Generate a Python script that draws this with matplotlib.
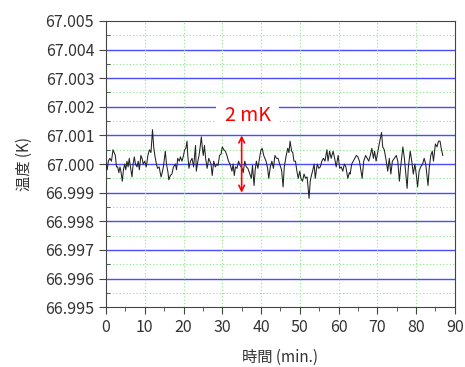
import numpy as np
import matplotlib.pyplot as plt
from matplotlib.ticker import MultipleLocator, FormatStrFormatter

plt.rcParams['font.family'] = ['Noto Sans CJK JP', 'DejaVu Sans']

# time (min) and deviation from 67 K (mK)
t = [0.0, 0.3, 0.6, 1.0, 1.4, 1.8, 2.1, 2.4, 2.7, 3.0, 3.3, 3.6, 3.9, 4.2, 4.5, 4.8,
     5.1, 5.4, 5.7, 6.0, 6.3, 6.7, 7.0, 7.3, 7.6, 8.0, 8.3, 8.6, 9.0, 9.3, 9.6, 10.0,
     10.4, 10.8, 11.2, 11.6, 12.0, 12.3, 12.6, 13.0, 13.3, 13.7, 14.2, 14.5,
     14.8, 15.3, 15.6, 16.0, 16.2, 16.6, 17.0, 17.4, 17.9, 18.2, 18.5, 18.9, 19.2,
     19.6, 20.0, 20.3, 20.6, 20.9, 21.1, 21.4, 21.8, 22.2, 22.6, 23.1, 23.3, 23.7,
     24.0, 24.3, 24.6, 24.9, 25.1, 25.4, 25.7, 26.1, 26.5, 26.8, 27.1, 27.4, 27.8,
     28.2, 28.6, 28.9, 29.3, 29.7, 30.0,
     30.4, 30.8, 31.2, 31.6, 32.0, 32.5, 32.8, 33.1, 33.4, 33.8, 34.2, 34.6, 35.1,
     35.4, 35.8, 36.2, 36.6, 37.0, 37.5, 37.8, 38.2, 38.5, 38.8, 39.2, 39.6, 40.0,
     40.3, 40.7, 41.3, 41.7, 42.0, 42.4, 42.8, 43.2, 43.6, 44.0, 44.4,
     44.8, 45.3, 45.7, 46.0, 46.5, 46.9, 47.2, 47.5, 47.9, 48.2, 48.5, 48.9, 49.2,
     49.6, 50.0, 50.3, 50.7, 51.1, 51.5, 51.9, 52.4, 52.7, 53.0, 53.3, 53.7, 54.0,
     54.5, 54.9, 55.3, 55.7, 56.1, 56.5, 57.0, 57.3, 57.7, 58.1, 58.6, 59.0, 59.4,
     59.9, 60.3, 60.7, 61.1, 61.5, 61.9, 62.4, 62.8, 63.0, 63.4, 63.8, 64.2, 64.6,
     65.0, 65.4, 65.8, 66.1, 66.5, 67.0, 67.4, 67.8, 68.2, 68.6, 69.0, 69.3, 69.7,
     70.1, 70.5, 71.1, 71.4, 71.8, 72.2, 72.7, 73.1, 73.5, 73.9, 74.4, 74.9,
     75.3, 75.7, 76.0, 76.6, 77.0, 77.3, 77.7, 78.0, 78.5, 78.9, 79.3, 79.7, 80.1,
     80.4, 80.8, 81.2, 81.7, 82.1, 82.5, 83.1, 83.4, 83.8, 84.2, 84.5, 85.0, 85.4,
     85.8, 86.2, 86.5, 86.9]
dev = [0.0, -0.2, 0.1, 0.2, 0.1, 0.5, 0.4, 0.3, -0.1, -0.1, -0.3, -0.1, -0.3, -0.6, -0.2, 0.0,
       -0.2, 0.1, -0.1, 0.2, -0.1, -0.45, 0.0, 0.25, 0.0, -0.1, 0.1, -0.2, 0.3, 0.2, 0.0, 0.1,
       -0.1, 0.3, 0.5, 0.4, 1.2, 0.6, 0.3, 0.0, -0.15, -0.1, -0.45, -0.3,
       -0.1, 0.45, 0.0, -0.3, -0.55, -0.4, -0.35, -0.1, 0.0, -0.2, 0.2, 0.1, 0.25,
       0.1, 0.3, 0.5, 0.55, 0.8, 0.3, -0.15, 0.1, 0.2, -0.1, 0.65, -0.25, 0.1,
       0.3, 0.6, 0.95, 0.5, 0.3, 0.65, 0.2, -0.15, 0.2, 0.1, 0.0, -0.4, 0.1,
       -0.1, 0.0, -0.05, 0.3, 0.35, 0.6,
       0.5, 0.45, 0.3, 0.1, 0.0, -0.25, 0.0, -0.4, -0.1, -0.15, 0.1, -0.05, -0.15,
       -0.3, 0.1, -0.1, -0.15, -0.3, -0.5, -0.05, -0.75, -0.2, 0.1, -0.15, 0.2, 0.5,
       0.55, 0.3, 0.1, -0.15, -0.5, -0.1, 0.1, -0.15, 0.3, 0.2, 0.2,
       0.0, -0.2, -0.8, -0.1, 0.3, 0.55, 0.4, 0.8, 0.45, 0.4, 0.1, 0.1, -0.2,
       -0.5, -0.25, -0.5, -0.6, -0.35, -0.5, -0.45, -1.2, -0.6, -0.4, -0.25, 0.0, -0.5,
       0.0, -0.15, -0.1, 0.1, 0.2, 0.1, 0.5, 0.1, 0.45, 0.2, 0.45, 0.2, -0.1,
       0.3, -0.15, -0.1, -0.25, 0.0, -0.1, -0.5, -0.3, -0.35, 0.0, 0.1, 0.2, 0.3,
       0.25, 0.1, -0.25, -0.5, 0.1, 0.3, 0.2, 0.1, 0.3, 0.55, 0.2, 0.45, 0.1,
       0.4, 0.7, 1.1, 0.6, 0.5, 0.2, -0.25, 0.2, -0.35, 0.1, 0.2, 0.3,
       0.1, -0.6, -0.15, 0.6, 0.2, -0.25, -0.85, -0.15, 0.45, 0.1, -0.35, 0.0, -0.4,
       -0.8, -0.25, -0.1, 0.0, 0.2, 0.0, -0.75, -0.15, 0.3, 0.45, 0.1, 0.7, 0.6,
       0.8, 0.8, 0.55, 0.3]

temp = 67.0 + np.array(dev) / 1000.0
blue_levels = [66.996, 66.997, 66.998, 66.999, 67.000, 67.001, 67.002, 67.003, 67.004]

fig = plt.figure(figsize=(4.65, 3.67), dpi=100)
ax = fig.add_axes([0.228, 0.163, 0.750, 0.780])

ax.set_xlim(0, 90)
ax.set_ylim(66.995, 67.005)
ax.xaxis.set_major_locator(MultipleLocator(10))
ax.xaxis.set_minor_locator(MultipleLocator(5))
ax.yaxis.set_major_locator(MultipleLocator(0.001))
ax.yaxis.set_minor_locator(MultipleLocator(0.0005))
ax.yaxis.set_major_formatter(FormatStrFormatter('%.3f'))

# green dotted grid
ax.grid(True, axis='x', which='major', color='#88e888', linestyle=(0, (1, 2)), lw=0.8)
ax.grid(True, axis='y', which='minor', color='#88e888', linestyle=(0, (1, 2)), lw=0.8)
for lv in blue_levels:
    ax.axhline(lv, color='#4b4bff', lw=1.0, zorder=1)

ax.plot(t, temp, color='#222222', lw=0.75, zorder=3)

# 2 mK marker
ax.annotate('', xy=(35, 66.999), xytext=(35, 67.001),
            arrowprops=dict(arrowstyle='<->', color='red', lw=1.2,
                            shrinkA=0, shrinkB=0), zorder=4)
ax.text(36.5, 67.0017, '2 mK', color='red', fontsize=14, ha='center', va='center',
        bbox=dict(facecolor='white', edgecolor='none', pad=6), zorder=5)

for s in ax.spines.values():
    s.set_color('#444444')
ax.tick_params(axis='both', which='major', direction='out', length=5,
               labelsize=11.5, colors='#444444', labelcolor='#333333')
ax.tick_params(axis='x', which='minor', direction='out', length=3, colors='#444444')
ax.tick_params(axis='y', which='minor', direction='in', length=3, colors='#444444')

ax.set_xlabel('時間 (min.)', fontsize=11, color='#333333', labelpad=9)
ax.set_ylabel('温度 (K)', fontsize=11, color='#333333', labelpad=9)

fig.savefig('out.png', dpi=100)
